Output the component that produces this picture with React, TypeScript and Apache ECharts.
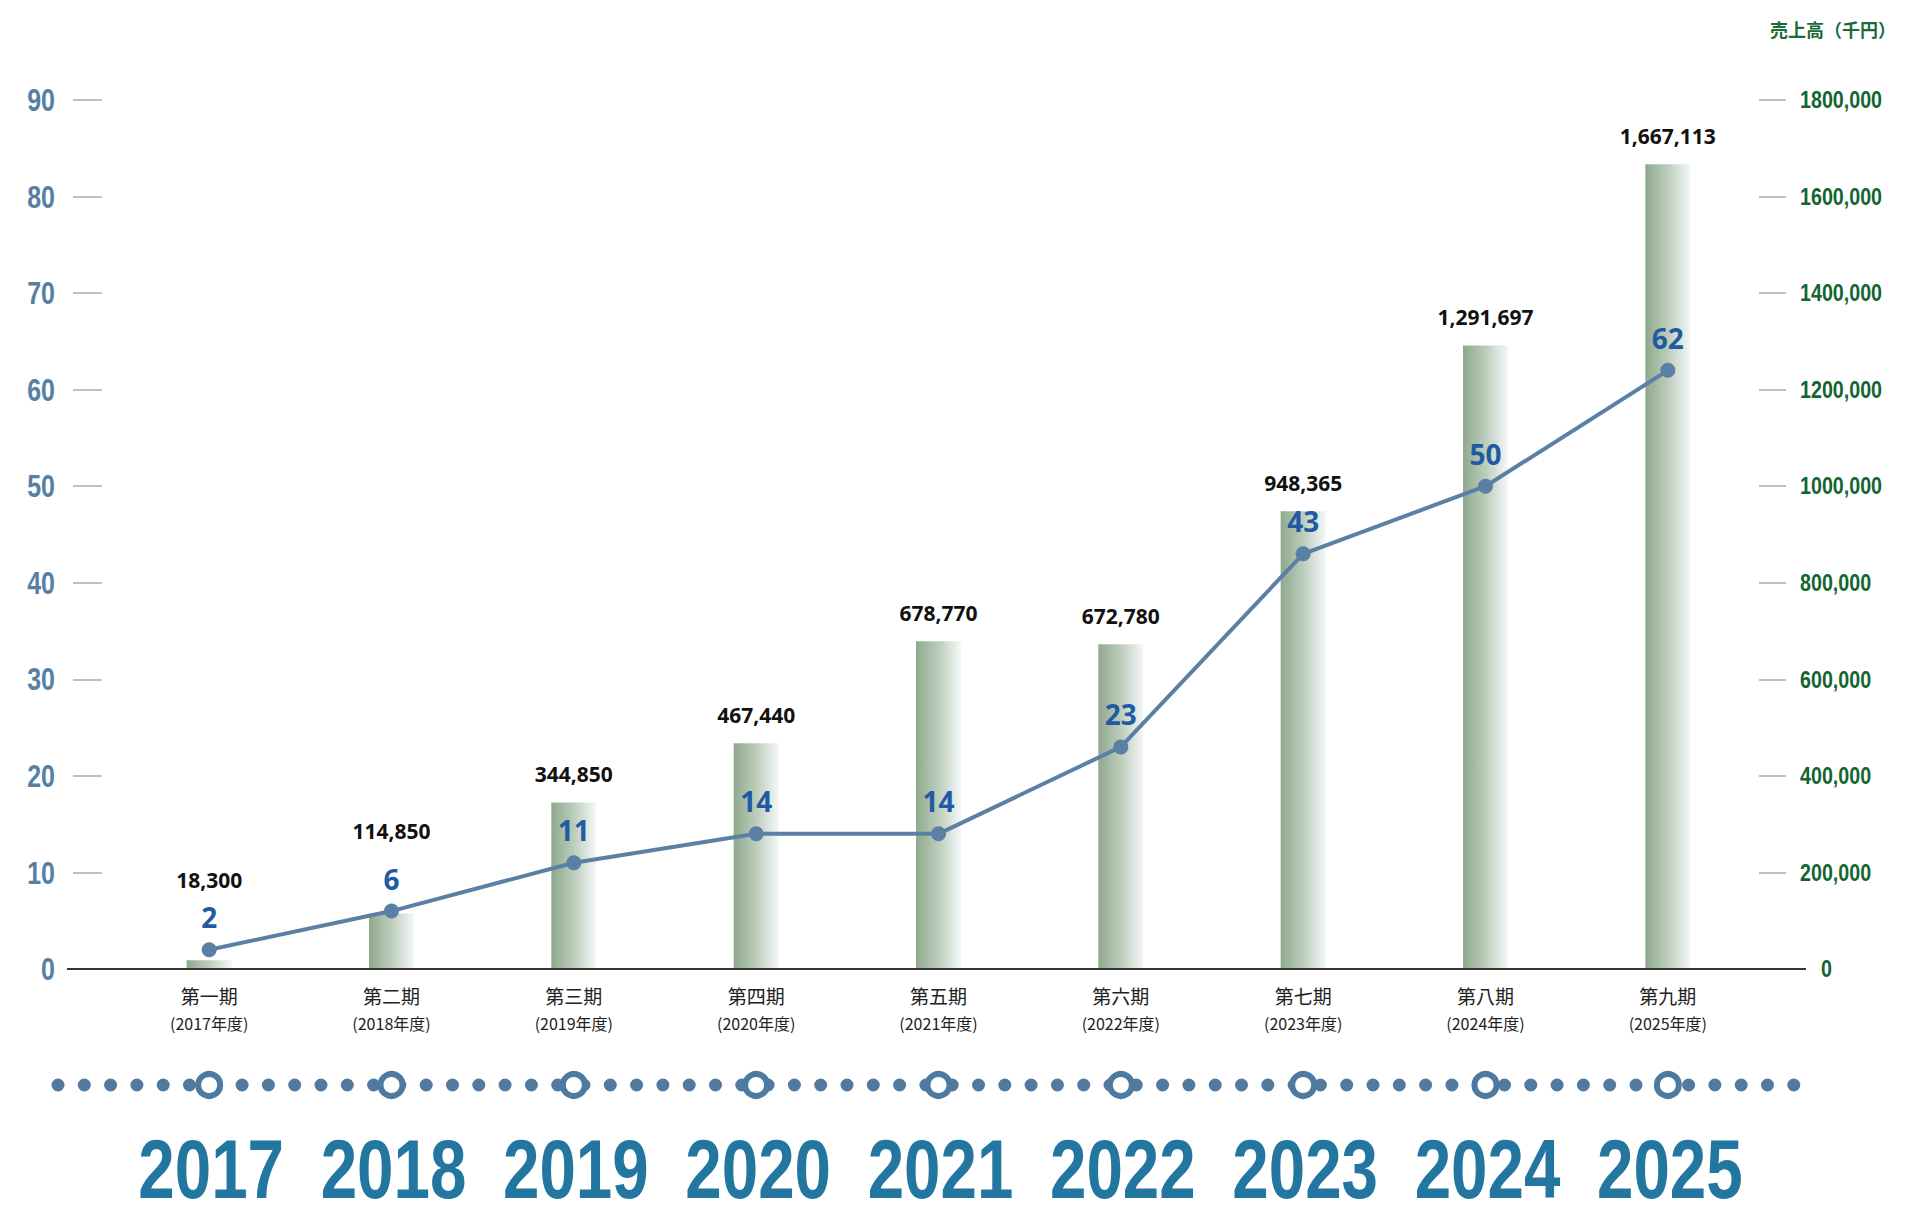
import { useEffect, useRef } from "react";
import * as echarts from "echarts";

const periods = ["第一期", "第二期", "第三期", "第四期", "第五期", "第六期", "第七期", "第八期", "第九期"];
const fiscalYears = ["(2017年度)", "(2018年度)", "(2019年度)", "(2020年度)", "(2021年度)", "(2022年度)", "(2023年度)", "(2024年度)", "(2025年度)"];
const years = ["2017", "2018", "2019", "2020", "2021", "2022", "2023", "2024", "2025"];

// 売上高（千円）
const sales = [18300, 114850, 344850, 467440, 678770, 672780, 948365, 1291697, 1667113];
// 人数
const headcount = [2, 6, 11, 14, 14, 23, 43, 50, 62];

// 目盛り
const leftTicks = [0, 10, 20, 30, 40, 50, 60, 70, 80, 90];
const rightTicks = [0, 200000, 400000, 600000, 800000, 1000000, 1200000, 1400000, 1600000, 1800000];
const rightTickLabels = ["0", "200,000", "400,000", "600,000", "800,000", "1000,000", "1200,000", "1400,000", "1600,000", "1800,000"];

const CJK = '"Noto Sans CJK JP", sans-serif';
const SANS = '"Noto Sans", "Noto Sans CJK JP", sans-serif';
const NUM = '"Liberation Sans", Arial, sans-serif';

const fmtNum = (v: number) => v.toLocaleString("en-US");

export default function App() {
  const chartRef = useRef<HTMLDivElement>(null);

  useEffect(() => {
    if (!chartRef.current) return;
    document.body.style.margin = "0";
    const chart = echarts.init(chartRef.current, undefined, { renderer: "svg" });

    // 最初の2本は線のラベルと重ならないように上へ逃がす
    const liftedBarLabels: Record<number, number> = { 0: 70, 1: 72 };

    const option = {
      animation: false,
      backgroundColor: "#ffffff",
      grid: [
        { left: 118, right: 161, top: 100, bottom: 249 },
        { left: 118, right: 161, top: 1075, height: 20 },
      ],
      graphic: [
        {
          type: "text",
          x: 1770,
          y: 29,
          style: {
            text: "売上高（千円）",
            fill: "#1b6b3a",
            fontSize: 18,
            fontWeight: "bold",
            fontFamily: CJK,
            verticalAlign: "middle",
          },
        },
        {
          type: "line",
          z: 3,
          shape: { x1: 67, y1: 969, x2: 1806, y2: 969 },
          style: { stroke: "#3b3636", lineWidth: 2 },
        },
        {
          type: "line",
          z: 0,
          shape: { x1: 58, y1: 1085, x2: 1796, y2: 1085 },
          style: { stroke: "#52799e", lineWidth: 13, lineDash: [0, 26.3], lineCap: "round" },
        },
      ],
      xAxis: [
        {
          type: "category",
          gridIndex: 0,
          data: periods,
          axisLine: { show: false },
          axisTick: { show: false },
          axisLabel: {
            margin: 12,
            interval: 0,
            formatter: (v: string, i: number) => `{a|${v}}\n{b|${fiscalYears[i]}}`,
            rich: {
              a: { fontSize: 19, lineHeight: 28, color: "#222", fontFamily: CJK },
              b: { fontSize: 16, lineHeight: 28, color: "#222", fontFamily: CJK },
            },
          },
        },
        {
          type: "category",
          gridIndex: 1,
          data: years,
          axisLine: { show: false },
          axisTick: { show: false },
          axisLabel: { show: false },
        },
      ],
      yAxis: [
        {
          type: "value",
          gridIndex: 0,
          min: leftTicks[0],
          max: leftTicks[leftTicks.length - 1],
          interval: leftTicks[1] - leftTicks[0],
          offset: 16,
          splitLine: { show: false },
          axisLine: { show: false },
          axisTick: { show: true, length: 29, lineStyle: { color: "#aaaaaa", width: 1.5 } },
          axisLabel: { show: false },
        },
        {
          type: "value",
          gridIndex: 0,
          position: "right",
          min: rightTicks[0],
          max: rightTicks[rightTicks.length - 1],
          interval: rightTicks[1] - rightTicks[0],
          splitLine: { show: false },
          axisLine: { show: false },
          axisTick: { show: true, length: 27, lineStyle: { color: "#aaaaaa", width: 1.5 } },
          axisLabel: { show: false },
        },
        { type: "value", gridIndex: 1, min: -1, max: 1, show: false },
      ],
      series: [
        {
          name: "売上高",
          type: "bar",
          xAxisIndex: 0,
          yAxisIndex: 1,
          data: sales.map((v, i) =>
            liftedBarLabels[i] !== undefined ? { value: v, label: { distance: liftedBarLabels[i] } } : v
          ),
          barWidth: 45,
          itemStyle: {
            color: {
              type: "linear",
              x: 0, y: 0, x2: 1, y2: 0,
              colorStops: [
                { offset: 0, color: "#8fa98d" },
                { offset: 0.5, color: "#bccdbb" },
                { offset: 1, color: "#f5f8f9" },
              ],
            },
          },
          label: {
            show: true,
            position: "top",
            distance: 18,
            fontSize: 21,
            fontWeight: "bold",
            color: "#111",
            fontFamily: SANS,
            formatter: (p: { value: number }) => fmtNum(p.value),
          },
        },
        {
          name: "人数",
          type: "line",
          xAxisIndex: 0,
          yAxisIndex: 0,
          data: headcount,
          z: 5,
          symbol: "circle",
          symbolSize: 15,
          lineStyle: { color: "#5b80a5", width: 4 },
          itemStyle: { color: "#5b80a5" },
          label: {
            show: true,
            position: "top",
            distance: 11,
            fontSize: 28,
            fontWeight: "bold",
            color: "#1f5aa3",
            fontFamily: SANS,
          },
        },
        {
          // 左軸の目盛りラベル（縦長の書体を横方向の縮小で再現）
          type: "custom",
          xAxisIndex: 0,
          yAxisIndex: 0,
          data: leftTicks.map((v) => [0, v]),
          renderItem: (params: any, api: any) => {
            const y = api.coord([0, api.value(1)])[1];
            return {
              type: "text",
              x: params.coordSys.x - 63,
              y,
              scaleX: 0.78,
              style: {
                text: String(leftTicks[params.dataIndex]),
                fill: "#5580a5",
                fontSize: 32,
                fontWeight: "bold",
                fontFamily: NUM,
                align: "right",
                verticalAlign: "middle",
              },
            };
          },
        },
        {
          // 右軸の目盛りラベル
          type: "custom",
          xAxisIndex: 0,
          yAxisIndex: 1,
          data: rightTicks.map((v) => [0, v]),
          renderItem: (params: any, api: any) => {
            const y = api.coord([0, api.value(1)])[1];
            const label = rightTickLabels[params.dataIndex];
            return {
              type: "text",
              x: params.coordSys.x + params.coordSys.width + 41 + (label === "0" ? 21 : 0),
              y,
              scaleX: 0.82,
              style: {
                text: label,
                fill: "#136632",
                fontSize: 24,
                fontWeight: "bold",
                fontFamily: NUM,
                align: "left",
                verticalAlign: "middle",
              },
            };
          },
        },
        {
          type: "scatter",
          xAxisIndex: 1,
          yAxisIndex: 2,
          data: years.map((_, i) => [i, 0]),
          symbol: "circle",
          symbolSize: 22,
          z: 4,
          itemStyle: { color: "#ffffff", borderColor: "#4c7aa0", borderWidth: 6, opacity: 1 },
        },
        {
          // 年の大きな数字
          type: "custom",
          xAxisIndex: 1,
          yAxisIndex: 2,
          data: years.map((_, i) => [i, 0]),
          renderItem: (params: { dataIndex: number }, api: any) => {
            const p = api.coord([api.value(0), api.value(1)]);
            return {
              type: "text",
              x: p[0] + 2,
              y: p[1] + 84,
              scaleX: 0.78,
              style: {
                text: years[params.dataIndex],
                fill: "#23769f",
                fontSize: 84,
                fontWeight: "bold",
                fontFamily: NUM,
                align: "center",
                verticalAlign: "middle",
              },
            };
          },
        },
      ],
    };

    chart.setOption(option as echarts.EChartsOption);

    return () => {
      chart.dispose();
    };
  }, []);

  return (
    <div
      ref={chartRef}
      style={{ position: "absolute", left: 0, top: 0, width: "1920px", height: "1218px" }}
    />
  );
}
